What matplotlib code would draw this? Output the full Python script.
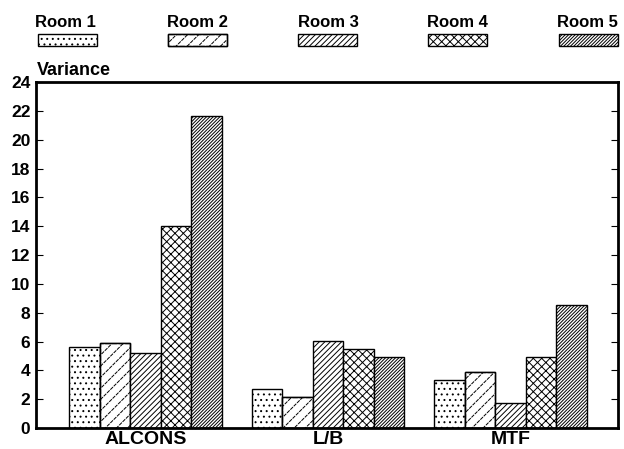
"""Variance per room for ALCONS, L/B and MTF, drawn as hatched grouped bars."""
import matplotlib
matplotlib.use("Agg")
import matplotlib.pyplot as plt
from matplotlib.patches import Rectangle
import numpy as np

categories = ["ALCONS", "L/B", "MTF"]
rooms = ["Room 1", "Room 2", "Room 3", "Room 4", "Room 5"]
room1 = [5.65, 2.7, 3.35]
room2 = [5.9, 2.15, 3.85]
room3 = [5.2, 6.05, 1.75]
room4 = [14.0, 5.45, 4.95]
room5 = [21.65, 4.9, 8.55]
y_ticks = [0, 2, 4, 6, 8, 10, 12, 14, 16, 18, 20, 22, 24]

series = [room1, room2, room3, room4, room5]
hatches = ['...', '///', '//////', 'xxxx', '//////////']
dash_cut = '\\\\\\\\\\'  # white counter-hatch that breaks room 2 lines into dashes

plt.rcParams['font.family'] = ['Liberation Sans', 'DejaVu Sans']
plt.rcParams['hatch.linewidth'] = 0.7

W, H = 624, 449
fig = plt.figure(figsize=(W / 100, H / 100), dpi=100)
ax = fig.add_axes([36 / W, 1 - 428 / H, 582 / W, 346 / H])

x = np.arange(len(categories))
width = 0.167
for i, vals in enumerate(series):
    pos = x + (i - 2) * width
    ax.bar(pos, vals, width, color='white', edgecolor='black',
           hatch=hatches[i], linewidth=1.0)
    if i == 1:
        ax.bar(pos, vals, width, color='none', edgecolor='white',
               hatch=dash_cut, linewidth=0)
        ax.bar(pos, vals, width, fill=False, edgecolor='black', linewidth=1.0)

ax.set_xlim(-0.6, 2.59)
ax.set_ylim(0, 24)
ax.set_yticks(y_ticks)
ax.set_yticklabels([str(t) for t in y_ticks], fontsize=12.5, fontweight='bold')
ax.set_xticks(x)
ax.set_xticklabels(categories, fontsize=14, fontweight='bold')
ax.tick_params(axis='x', length=0, pad=2)
ax.tick_params(axis='y', direction='in', length=5, right=True, pad=4)
for s in ax.spines.values():
    s.set_linewidth(2)

fig.text(37 / W, 1 - 75 / H, "Variance", fontsize=13, fontweight='bold',
         va='baseline', ha='left')

# legend across the top, label over a small hatched box
label_x = [65, 197, 328, 457, 587]
box_left = [38, 168, 298, 428, 559]
for i, name in enumerate(rooms):
    fig.text(label_x[i] / W, 1 - 27 / H, name, fontsize=12,
             fontweight='bold', ha='center', va='baseline')
    w = 59 / W
    h = 12 / H
    x0 = box_left[i] / W
    y0 = 1 - 46 / H
    fig.patches.append(Rectangle((x0, y0), w, h, transform=fig.transFigure,
                                 facecolor='white', edgecolor='black',
                                 hatch=hatches[i], linewidth=1.0))
    if i == 1:
        fig.patches.append(Rectangle((x0, y0), w, h, transform=fig.transFigure,
                                     facecolor='none', edgecolor='white',
                                     hatch=dash_cut, linewidth=0))
        fig.patches.append(Rectangle((x0, y0), w, h, transform=fig.transFigure,
                                     fill=False, edgecolor='black', linewidth=1.0))

fig.savefig("out.png", dpi=100)
plt.close(fig)
